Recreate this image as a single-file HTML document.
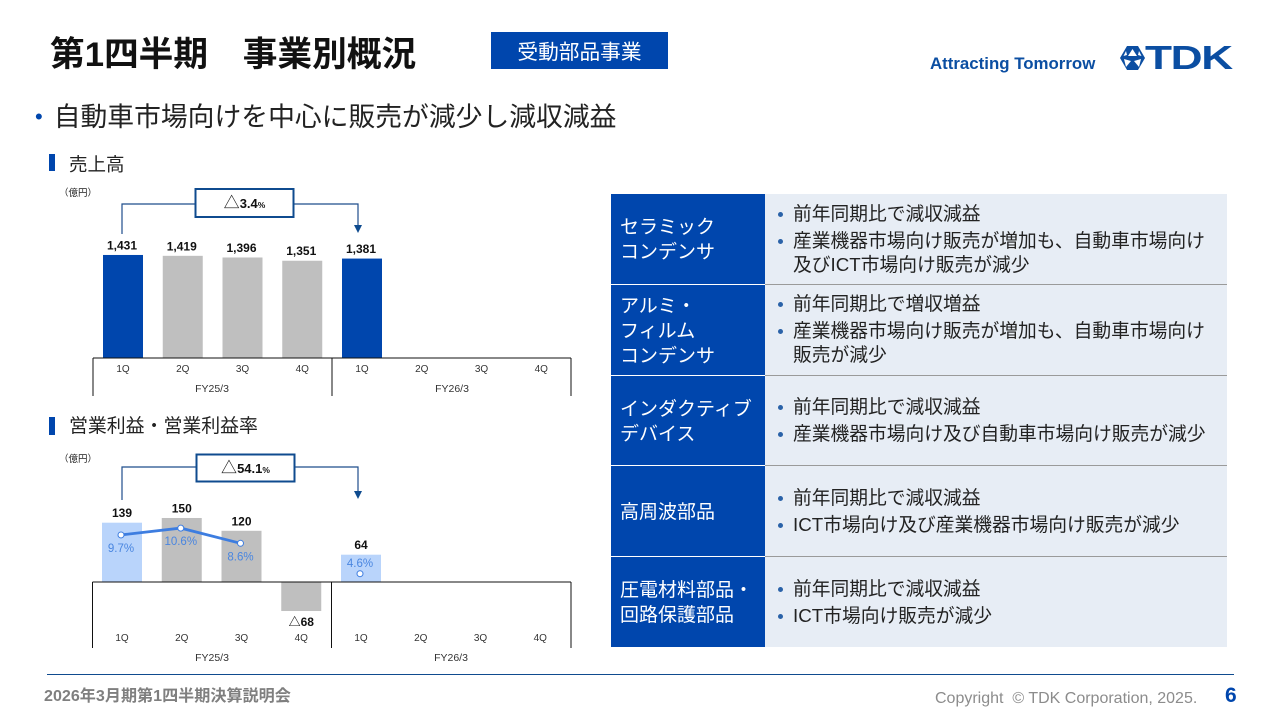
<!DOCTYPE html>
<html lang="ja">
<head>
<meta charset="utf-8">
<title>第1四半期 事業別概況</title>
<style>
html,body{margin:0;padding:0;background:#fff}
body{width:1281px;height:720px;position:relative;overflow:hidden;font-family:"Liberation Sans","Noto Sans CJK JP",sans-serif;color:#1a1a1a}
.abs{position:absolute;white-space:nowrap}
.rowtitle{position:absolute;left:611px;width:154px;background:#0046ad;color:#fff;font-size:19px;line-height:25px;box-sizing:border-box;padding-left:9px;padding-top:2px;display:flex;align-items:center}
.rowbody{position:absolute;left:765px;width:462px;background:#e7edf5;font-size:18.75px;line-height:24px;color:#222}
.b{position:absolute;left:28px;white-space:nowrap}
.b:before{content:"";position:absolute;left:-15px;top:10px;width:5px;height:5px;border-radius:50%;background:#2a62a8}
.sep{position:absolute;left:765px;width:462px;height:1px;background:#9a9a9a}
svg{position:absolute;left:0;top:0}
svg text{font-family:"Liberation Sans","Noto Sans CJK JP",sans-serif}
</style>
</head>
<body>
<div class="abs" style="left:50px;top:34px;font-size:34.7px;font-weight:700;line-height:42px;color:#111">第1四半期　事業別概況</div>
<div class="abs" style="left:491px;top:32px;width:177px;height:37px;background:#0046ad;color:#fff;font-size:20.7px;line-height:41px;text-align:center">受動部品事業</div>
<div class="abs" style="left:930px;top:54px;font-size:16.85px;font-weight:700;line-height:20px;color:#0b4ea2">Attracting Tomorrow</div>
<svg width="1281" height="720" style="pointer-events:none">
  <polygon points="1127,46 1138,46 1145,58 1138,70 1127,70 1120,58" fill="#0b4ea2"/>
  <polygon points="1132.5,49 1137,56 1128,56" fill="#fff"/>
  <polygon points="1124,59 1131,61 1126,67" fill="#fff"/>
  <polygon points="1141,59 1134,61 1139,67" fill="#fff"/>
  <polygon points="1126,51 1127,55 1123.5,56" fill="#fff"/>
  <polygon points="1139,51 1138,55 1141.5,56" fill="#fff"/>
</svg>
<div class="abs" style="left:1145px;top:38px;font-size:33px;font-weight:700;line-height:40px;color:#0b4ea2;transform:scaleX(1.34);transform-origin:left top;letter-spacing:-1px">TDK</div>

<div class="abs" style="left:35px;top:99px;font-size:26.8px;line-height:36px;color:#222"><span style="color:#0046ad;font-size:22px;margin-right:11px;position:relative;top:-2px">•</span>自動車市場向けを中心に販売が減少し減収減益</div>

<div class="abs" style="left:49px;top:154px;width:6px;height:17px;background:#0046ad"></div>
<div class="abs" style="left:69px;top:152px;font-size:18.5px;line-height:25px;color:#222">売上高</div>
<div class="abs" style="left:49px;top:417px;width:6px;height:18px;background:#0046ad"></div>
<div class="abs" style="left:69px;top:414px;font-size:18.9px;line-height:25px;color:#222">営業利益・営業利益率</div>

<svg id="charts" width="1281" height="720"></svg>

<div class="rowtitle" style="top:194px;height:90px;box-sizing:border-box"><span>セラミック<br>コンデンサ</span></div>
<div class="rowbody" style="top:194px;height:90px">
  <div class="b" style="top:8px">前年同期比で減収減益</div>
  <div class="b" style="top:35px">産業機器市場向け販売が増加も、自動車市場向け<br>及びICT市場向け販売が減少</div>
</div>
<div class="sep" style="top:284px"></div>
<div class="rowtitle" style="top:285px;height:90px"><span>アルミ・<br>フィルム<br>コンデンサ</span></div>
<div class="rowbody" style="top:285px;height:90px">
  <div class="b" style="top:7px">前年同期比で増収増益</div>
  <div class="b" style="top:34px">産業機器市場向け販売が増加も、自動車市場向け<br>販売が減少</div>
</div>
<div class="sep" style="top:375px"></div>
<div class="rowtitle" style="top:376px;height:89px"><span>インダクティブ<br>デバイス</span></div>
<div class="rowbody" style="top:376px;height:89px">
  <div class="b" style="top:19px">前年同期比で減収減益</div>
  <div class="b" style="top:46px">産業機器市場向け及び自動車市場向け販売が減少</div>
</div>
<div class="sep" style="top:465px"></div>
<div class="rowtitle" style="top:466px;height:90px"><span>高周波部品</span></div>
<div class="rowbody" style="top:466px;height:90px">
  <div class="b" style="top:20px">前年同期比で減収減益</div>
  <div class="b" style="top:47px">ICT市場向け及び産業機器市場向け販売が減少</div>
</div>
<div class="sep" style="top:556px"></div>
<div class="rowtitle" style="top:557px;height:90px"><span>圧電材料部品・<br>回路保護部品</span></div>
<div class="rowbody" style="top:557px;height:90px">
  <div class="b" style="top:20px">前年同期比で減収減益</div>
  <div class="b" style="top:47px">ICT市場向け販売が減少</div>
</div>

<div class="abs" style="left:47px;top:674px;width:1187px;height:1px;background:#0f4b8f"></div>
<div class="abs" style="left:44px;top:686px;font-size:16.1px;font-weight:700;line-height:20px;color:#7f7f7f">2026年3月期第1四半期決算説明会</div>
<div class="abs" style="left:935px;top:689px;font-size:16px;line-height:20px;color:#8c8c8c">Copyright &nbsp;© TDK Corporation, 2025.</div>
<div class="abs" style="left:1225px;top:683px;font-size:21px;font-weight:700;line-height:26px;color:#0046ad">6</div>

<script>
const quarters = ['1Q', '2Q', '3Q', '4Q', '1Q', '2Q', '3Q', '4Q'];
const fiscalYears = ['FY25/3', 'FY26/3'];
const salesValues = [1431, 1419, 1396, 1351, 1381];
const salesLabels = ['1,431', '1,419', '1,396', '1,351', '1,381'];
const profitValues = [139, 150, 120, -68, 64];
const profitLabels = ['139', '150', '120', '△68', '64'];
const marginValues = [9.7, 10.6, 8.6, null, 4.6];
const marginLabels = ['9.7%', '10.6%', '8.6%', '', '4.6%'];

const NS = 'http://www.w3.org/2000/svg';
const root = document.getElementById('charts');
function mk(tag, attrs, text) {
  const el = document.createElementNS(NS, tag);
  for (const k in attrs) el.setAttribute(k, attrs[k]);
  if (text !== undefined) el.textContent = text;
  root.appendChild(el);
  return el;
}
function axisLines(y0, bottom, left, mid, right, prefix) {
  const h = mk('line', {x1: left, x2: right, y1: y0, y2: y0, stroke: '#111', 'stroke-width': 1});
  
  
  [left, mid, right].forEach(function (x) {
    const v = mk('line', {x1: x, x2: x, y1: y0, y2: bottom, stroke: '#111', 'stroke-width': 1});
    
    
  });
}
function callout(boxX, boxY, boxW, boxH, lineY, startX, startY, endX, endY, main, prefix) {
  const p = mk('path', {d: 'M' + startX + ' ' + startY + 'V' + lineY + 'H' + boxX + 'M' + (boxX + boxW) + ' ' + lineY + 'H' + endX + 'V' + (endY - 6), fill: 'none', stroke: '#1f4e8c', 'stroke-width': 1.2});
  
  
  const a = mk('polygon', {points: (endX - 4) + ',' + (endY - 7) + ' ' + (endX + 4) + ',' + (endY - 7) + ' ' + endX + ',' + (endY + 1), fill: '#0f4b8f'});
  
  
  const r = mk('rect', {x: boxX, y: boxY, width: boxW, height: boxH, fill: '#fff', stroke: '#0f4b8f', 'stroke-width': 2});
  
  
  const t = mk('text', {x: boxX + boxW / 2, y: boxY + boxH / 2 + 5, 'text-anchor': 'middle', 'font-size': 13, 'font-weight': 700, fill: '#111'});
  
  
  const s1 = document.createElementNS(NS, 'tspan');
  s1.setAttribute('font-size', '16');
  s1.setAttribute('font-weight', '400');
  s1.textContent = '△';
  const s2 = document.createElementNS(NS, 'tspan');
  s2.textContent = main;
  const s3 = document.createElementNS(NS, 'tspan');
  s3.setAttribute('font-size', '8.5');
  s3.textContent = '%';
  t.appendChild(s1); t.appendChild(s2); t.appendChild(s3);
}
function unitLabel(y, prefix) {
  const u = mk('text', {x: 59, y: y, 'font-size': 9.5, fill: '#222'}, '（億円）');
  
  
}
function tickLabels(xFn, tickY, fyY, fyCenters, prefix) {
  quarters.forEach(function (q, i) {
    const t = mk('text', {x: xFn(i), y: tickY, 'text-anchor': 'middle', 'font-size': 10, fill: '#333'}, q);
    
    
  });
  fiscalYears.forEach(function (f, i) {
    const t = mk('text', {x: fyCenters[i], y: fyY, 'text-anchor': 'middle', 'font-size': 10.5, fill: '#333'}, f);
    
    
  });
}

/* Sales chart */
const salesX = function (i) { return 123 + i * 59.75; };
const salesBase = 358;
const salesY = function (v) { return salesBase - v * 0.072; };
salesValues.forEach(function (v, i) {
  const highlighted = i === 0 || i === 4;
  const top = salesY(v);
  const b = mk('rect', {x: salesX(i) - 20, y: top, width: 40, height: salesBase - top, fill: highlighted ? '#0046ad' : '#bfbfbf'});
  
  
  const l = mk('text', {x: salesX(i) - 1, y: top - 5.5, 'text-anchor': 'middle', 'font-size': 12, 'font-weight': 700, fill: '#111'}, salesLabels[i]);
  
  
});
axisLines(358, 396, 93, 332, 571, 'sales');
tickLabels(salesX, 372, 392, [212, 452], 'sales');
callout(195.5, 189, 98, 28, 204, 122, 234, 358, 232, '3.4', 'sales');
unitLabel(196, 'sales');

/* Operating profit chart */
const profitX = function (i) { return 122 + i * 59.75; };
const profitBase = 582;
const profitY = function (v) { return profitBase - v * 0.4267; };
const marginY = function (v) { return 543.3 + (8.6 - v) * 7.6; };
profitValues.forEach(function (v, i) {
  const top = Math.min(profitY(v), profitBase);
  const h = Math.abs(profitY(v) - profitBase);
  const highlighted = i === 0 || i === 4;
  const b = mk('rect', {x: profitX(i) - 20, y: top, width: 40, height: h, fill: highlighted ? '#b9d4fb' : '#bfbfbf'});
  
  
  const ly = v >= 0 ? top - 5.5 : top + h + 15;
  const l = mk('text', {x: profitX(i), y: ly, 'text-anchor': 'middle', 'font-size': 12, 'font-weight': 700, fill: '#111'}, profitLabels[i]);
  
  
});
axisLines(582, 648, 92.5, 331.5, 571, 'profit');
tickLabels(profitX, 641, 661, [212, 451], 'profit');
const linePts = [];
for (let i = 0; i < 3; i++) {
  linePts.push((profitX(i) - 1) + ',' + marginY(marginValues[i]));
}
const marginLine = mk('polyline', {points: linePts.join(' '), fill: 'none', stroke: '#3d7de0', 'stroke-width': 2.8});


marginValues.forEach(function (v, i) {
  if (v === null) return;
  const cy = marginY(v);
  const c = mk('circle', {cx: profitX(i) - 1, cy: cy, r: 3, fill: '#fff', stroke: '#3d7de0', 'stroke-width': 1});
  
  
  const ly = i === 4 ? cy - 6.5 : cy + 17;
  const t = mk('text', {x: profitX(i) - 1, y: ly, 'text-anchor': 'middle', 'font-size': 11.5, fill: '#4a86e0'}, marginLabels[i]);
  
  
});
callout(196.5, 454.5, 98, 27, 467, 122, 500, 358, 498, '54.1', 'profit');
unitLabel(462, 'profit');
</script>
</body>
</html>
